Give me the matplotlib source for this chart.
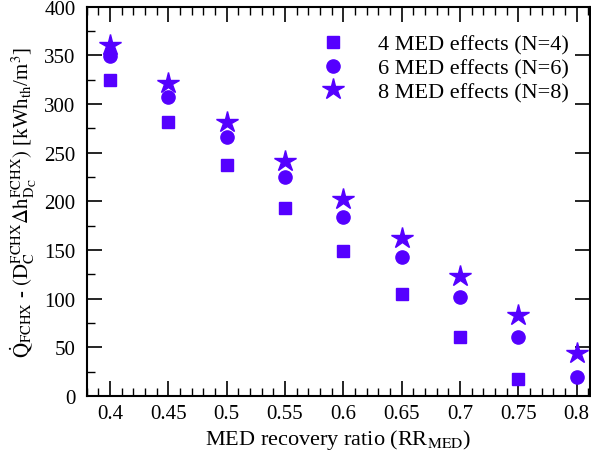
import matplotlib
matplotlib.use('Agg')
import matplotlib.pyplot as plt
from matplotlib.ticker import MultipleLocator

plt.rcParams['font.family'] = 'Liberation Serif'
plt.rcParams['mathtext.fontset'] = 'stix'

# MED recovery ratio
rr = [0.4, 0.45, 0.5, 0.55, 0.6, 0.65, 0.7, 0.75, 0.8]
rr4 = [0.4, 0.45, 0.5, 0.55, 0.6, 0.65, 0.7, 0.75]
q_n4 = [325, 281, 237, 193, 149, 105, 61, 17]
q_n6 = [349, 307, 266, 225, 184, 143, 102, 61, 20]
q_n8 = [361, 321, 281, 241, 202, 162, 123, 83, 44]

col = '#5500ff'

fig = plt.figure(figsize=(5.91, 4.56), dpi=100)
ax = fig.add_axes([0.1467, 0.1294, 0.8516, 0.854])

ax.plot(rr4, q_n4, 's', color=col, ms=9, ls='none', label='4 MED effects (N=4)')
ax.plot(rr, q_n6, 'o', color=col, ms=9.5, ls='none', label='6 MED effects (N=6)')
ax.plot(rr, q_n8, '*', color=col, ms=16, ls='none', label='8 MED effects (N=8)')

ax.set_xlim(0.38, 0.8115)
ax.set_ylim(0, 400)
ax.xaxis.set_major_locator(MultipleLocator(0.05))
ax.xaxis.set_minor_locator(MultipleLocator(0.01))
ax.yaxis.set_major_locator(MultipleLocator(50))
ax.yaxis.set_minor_locator(MultipleLocator(25))
ax.set_xticks([0.4, 0.45, 0.5, 0.55, 0.6, 0.65, 0.7, 0.75, 0.8])
ax.set_xticklabels(['0.4', '0.45', '0.5', '0.55', '0.6', '0.65', '0.7', '0.75', '0.8'])

ax.tick_params(which='major', direction='in', length=11, width=1.2, labelsize=15,
               top=True, right=True)
ax.tick_params(axis='y', which='major', pad=8)
ax.tick_params(axis='x', which='major', pad=6)
ax.tick_params(which='minor', direction='in', length=5.5, width=1.0, top=True, right=False)
for s in ax.spines.values():
    s.set_linewidth(1.5)

ax.set_xlabel(r'MED recovery ratio (RR$_{\rm MED}$)', fontsize=16, labelpad=3)
ax.set_ylabel(r'$\dot{\rm Q}_{\rm FCHX}$ - $({\rm D}_{\rm C}^{\rm FCHX}\Delta{\rm h}_{{\rm D}_{\rm C}}^{\rm FCHX})$ [kWh$_{\rm th}$/m$^3$]',
              fontsize=15, labelpad=4)

ax.legend(loc='upper right', frameon=False, fontsize=16, handletextpad=1.2,
          handlelength=1.6, borderaxespad=0.0, labelspacing=0.14,
          bbox_to_anchor=(0.975, 0.952))

fig.savefig('out.png', dpi=100)
